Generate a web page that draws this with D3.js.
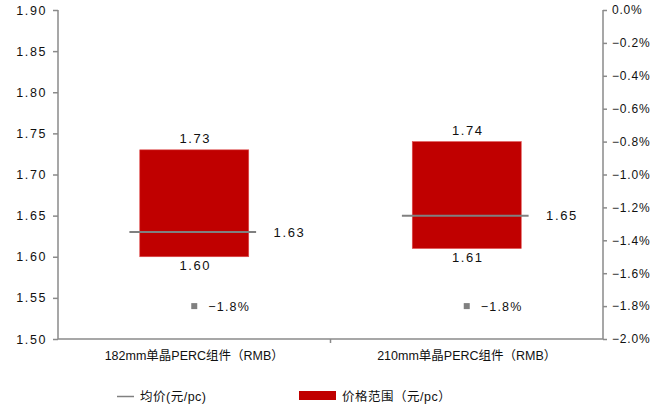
<!DOCTYPE html>
<html>
<head>
<meta charset="utf-8">
<script src="https://cdn.jsdelivr.net/npm/d3@7"></script>
<style>
  html, body { margin: 0; padding: 0; background: #fff; }
  svg text { font-family: "Liberation Sans", Arial, sans-serif; fill: #111; }
  .cjk { font-family: "Liberation Sans", "Noto Sans CJK SC", sans-serif; }
</style>
</head>
<body>
<svg id="chart" width="665" height="405"></svg>
<script>
// Module price ranges (RMB per piece) and week-over-week change of the average
const categories = ["182mm单晶PERC组件（RMB）", "210mm单晶PERC组件（RMB）"];
const lowPrices  = [1.60, 1.61];
const highPrices = [1.73, 1.74];
const avgPrices  = [1.63, 1.65];
const changePct  = [-1.8, -1.8];
const leftTicks  = [1.50, 1.55, 1.60, 1.65, 1.70, 1.75, 1.80, 1.85, 1.90];
const rightTicks = [0, -0.2, -0.4, -0.6, -0.8, -1.0, -1.2, -1.4, -1.6, -1.8, -2.0];
const legendLabels = ["均价(元/pc)", "价格范围（元/pc）"];

const svg = d3.select("#chart");
const mLeft = 58, mRight = 603, mTop = 10, mBottom = 339;
const RED = "#c00000", GREY = "#808080", AXIS = "#8a8a8a";

const x = d3.scaleBand().domain(categories).range([mLeft, mRight]);
const y = d3.scaleLinear().domain([1.50, 1.90]).range([mBottom, mTop]);
const y2 = d3.scaleLinear().domain([-2.0, 0]).range([mBottom, mTop]);

// Left axis
const gL = svg.append("g").attr("transform", `translate(${mLeft},0)`)
  .call(d3.axisLeft(y).tickValues(leftTicks).tickFormat(d3.format(".2f")).tickSize(5).tickPadding(6));
gL.selectAll("text").attr("font-size", 12.5).attr("letter-spacing", 1.6).attr("fill", "#111");

// Right axis
const gR = svg.append("g").attr("transform", `translate(${mRight},0)`)
  .call(d3.axisRight(y2).tickValues(rightTicks).tickFormat(d => d3.format(".1f")(d).replace("-", "−") + "%").tickSize(4).tickPadding(5));
gR.selectAll("text").attr("font-size", 12).attr("letter-spacing", 0.8).attr("fill", "#111");

// Bottom axis with a single separator tick between the categories
const gB = svg.append("g").attr("transform", `translate(0,${mBottom})`)
  .call(d3.axisBottom(x).tickSize(0).tickPadding(12));
gB.selectAll("text").attr("font-size", 12.5).attr("class", "cjk").attr("fill", "#111");
gB.append("line").attr("x1", x(categories[1])).attr("x2", x(categories[1]))
  .attr("y1", 0).attr("y2", 4).attr("stroke", AXIS).attr("stroke-width", 1.5);

[gL, gR, gB].forEach(g => {
  g.selectAll(".domain").attr("stroke", AXIS).attr("stroke-width", 1.5);
  g.selectAll(".tick line").attr("stroke", AXIS).attr("stroke-width", 1.5);
});
gL.select(".domain").attr("d", `M0,${mTop}V${mBottom}`);
gR.select(".domain").attr("d", `M0,${mTop}V${mBottom}`);
gB.select(".domain").attr("d", `M${mLeft},0H${mRight}`);

const bw = x.bandwidth();
const barW = bw * 0.4, lineW = bw * 0.465;
const cx = d => x(d) + bw / 2;

const groups = svg.append("g").selectAll("g").data(categories).join("g");

// Price range bars
groups.append("rect")
  .attr("x", d => cx(d) - barW / 2)
  .attr("y", (d, i) => y(highPrices[i]))
  .attr("width", barW)
  .attr("height", (d, i) => y(lowPrices[i]) - y(highPrices[i]))
  .attr("fill", RED).attr("stroke", "#e05050").attr("stroke-width", 0.6);

// Average price line
groups.append("line")
  .attr("x1", d => cx(d) - lineW / 2 - 1.5)
  .attr("x2", d => cx(d) + lineW / 2 - 1.5)
  .attr("y1", (d, i) => y(avgPrices[i]))
  .attr("y2", (d, i) => y(avgPrices[i]))
  .attr("stroke", GREY).attr("stroke-width", 2);

const fmt = d3.format(".2f");
groups.append("text").attr("text-anchor", "middle").attr("font-size", 13).attr("letter-spacing", 1.6)
  .attr("x", d => cx(d) + 1).attr("y", (d, i) => y(highPrices[i]) - 7)
  .text((d, i) => fmt(highPrices[i]));
groups.append("text").attr("text-anchor", "middle").attr("font-size", 13).attr("letter-spacing", 1.6)
  .attr("x", d => cx(d) + 1).attr("y", (d, i) => y(lowPrices[i]) + 13)
  .text((d, i) => fmt(lowPrices[i]));
groups.append("text").attr("text-anchor", "start").attr("font-size", 13).attr("letter-spacing", 1.6)
  .attr("x", d => cx(d) + lineW / 2 + 16).attr("y", (d, i) => y(avgPrices[i]) + 4.5)
  .text((d, i) => fmt(avgPrices[i]));

// Change markers on the right axis scale
groups.append("rect")
  .attr("x", d => cx(d) - 3).attr("y", (d, i) => y2(changePct[i]) - 3)
  .attr("width", 6).attr("height", 6).attr("fill", GREY);
groups.append("text").attr("font-size", 12.5).attr("letter-spacing", 1.2)
  .attr("x", d => cx(d) + 14).attr("y", (d, i) => y2(changePct[i]) + 4.5)
  .text((d, i) => d3.format(".1f")(changePct[i]).replace("-", "−") + "%");

// Legend
const lg = svg.append("g");
lg.append("line").attr("x1", 117).attr("x2", 134).attr("y1", 396.5).attr("y2", 396.5)
  .attr("stroke", GREY).attr("stroke-width", 1.5);
lg.append("text").attr("class", "cjk").attr("x", 140).attr("y", 401).attr("font-size", 12.5)
  .attr("letter-spacing", 0.5).text(legendLabels[0]);
lg.append("rect").attr("x", 299).attr("y", 391).attr("width", 37).attr("height", 9).attr("fill", RED);
lg.append("text").attr("class", "cjk").attr("x", 342).attr("y", 401).attr("font-size", 12.5)
  .attr("letter-spacing", 0.5).text(legendLabels[1]);
</script>
</body>
</html>
